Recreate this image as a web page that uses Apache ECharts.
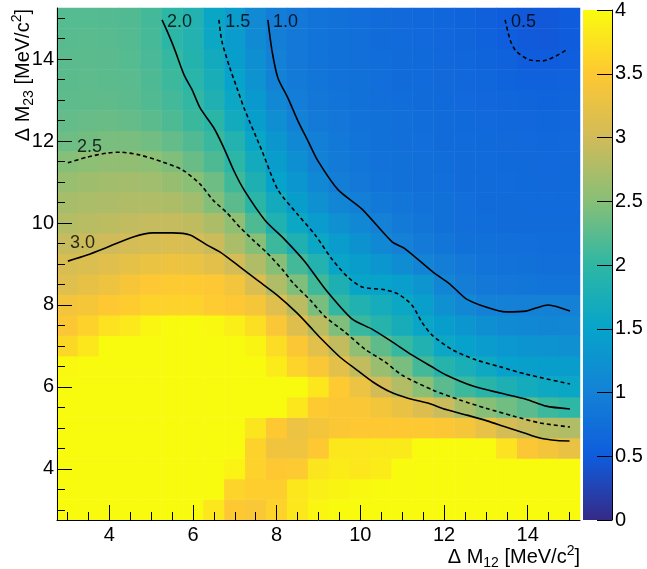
<!DOCTYPE html>
<html><head><meta charset="utf-8">
<script src="https://cdn.jsdelivr.net/npm/echarts@6/dist/echarts.min.js"></script>
<style>html,body{margin:0;padding:0;background:#fff}#c{width:647px;height:569px}</style>
</head><body><div id="c"></div>
<script>
// ---- data ----
const xCenters = ['3','3.5','4','4.5','5','5.5','6','6.5','7','7.5','8','8.5','9','9.5','10','10.5','11','11.5','12','12.5','13','13.5','14','14.5','15'];
const yCenters = ['3','3.5','4','4.5','5','5.5','6','6.5','7','7.5','8','8.5','9','9.5','10','10.5','11','11.5','12','12.5','13','13.5','14','14.5','15'];
const majorTickLabels = ['4','6','8','10','12','14'];
// cell values, one row per y centre (first row: y = 3, last row: y = 15)
const zRows = [
 [4,4,4,4,4,4,4,3.8,3.5,3.45,3.6,3.8,3.95,4,4,4,4,4,4,4,4,4,4,4,4],
 [4,4,4,4,4,4,4,4,3.62,3.55,3.55,3.8,3.88,3.93,3.97,4,4,4,4,4,4,4,4,4,4],
 [4,4,4,4,4,4,4,4,3.92,3.6,3.5,3.52,3.78,3.85,3.8,3.85,4,4,4,4,4,4,4,4,4],
 [4,4,4,4,4,4,4,4,4,3.6,3.35,3.33,3.5,3.8,3.8,3.82,3.83,4,4,4,4,3.75,3.48,3.38,3.28],
 [4,4,4,4,4,4,4,4,4,3.78,3.5,3.3,3.38,3.48,3.5,3.5,3.5,3.5,3.48,3.4,3.25,3.05,2.93,2.82,2.78],
 [4,4,4,4,4,4,4,4,4,4,4,3.8,3.52,3.47,3.45,3.38,3.28,3.12,2.95,2.72,2.5,2.38,2.25,2.08,2.0],
 [4,4,4,4,4,4,4,4,4,4,4,4,3.8,3.52,3.3,3.02,2.8,2.52,2.25,2.08,1.93,1.8,1.68,1.6,1.55],
 [3.97,4,4,4,4,4,4,4,4,4,3.85,3.62,3.45,3.2,2.9,2.62,2.42,2.12,1.9,1.75,1.6,1.47,1.44,1.42,1.4],
 [3.66,3.8,4,4,4,4,4,4,4,3.93,3.7,3.48,3.18,2.9,2.55,2.28,2.05,1.84,1.58,1.47,1.38,1.31,1.27,1.25,1.22],
 [3.48,3.6,3.75,3.82,3.95,4,4,3.97,3.88,3.72,3.45,3.14,2.85,2.46,2.06,1.9,1.72,1.54,1.42,1.3,1.2,1.13,1.1,1.09,1.08],
 [3.37,3.41,3.5,3.54,3.6,3.6,3.6,3.53,3.49,3.4,3.15,2.85,2.42,2.02,1.84,1.7,1.57,1.44,1.22,1.08,0.99,0.98,0.98,0.99,0.98],
 [3.16,3.24,3.32,3.42,3.49,3.52,3.52,3.49,3.37,3.1,2.78,2.46,2.1,1.8,1.52,1.48,1.43,1.28,1.05,0.96,0.88,0.85,0.84,0.83,0.82],
 [3.08,3.11,3.17,3.22,3.29,3.32,3.29,3.2,3.03,2.78,2.5,2.12,1.86,1.52,1.4,1.3,1.17,1.04,0.96,0.88,0.82,0.8,0.77,0.76,0.76],
 [2.93,2.96,2.99,3.03,3.06,3.1,3.06,2.96,2.74,2.5,2.08,1.82,1.57,1.38,1.24,1.1,0.98,0.9,0.84,0.79,0.77,0.75,0.74,0.73,0.73],
 [2.8,2.83,2.86,2.89,2.91,2.91,2.88,2.76,2.56,2.18,1.84,1.58,1.38,1.22,1.1,0.98,0.9,0.84,0.78,0.75,0.73,0.72,0.72,0.71,0.71],
 [2.72,2.74,2.76,2.78,2.78,2.76,2.68,2.48,2.26,1.96,1.66,1.42,1.22,1.07,0.97,0.89,0.84,0.8,0.77,0.74,0.72,0.71,0.7,0.7,0.7],
 [2.62,2.66,2.68,2.69,2.67,2.61,2.52,2.36,2.1,1.8,1.5,1.3,1.1,0.96,0.88,0.83,0.79,0.76,0.74,0.72,0.71,0.7,0.69,0.68,0.69],
 [2.49,2.54,2.57,2.57,2.54,2.46,2.33,2.18,1.97,1.66,1.4,1.2,1.02,0.91,0.84,0.8,0.77,0.75,0.73,0.71,0.7,0.69,0.68,0.67,0.68],
 [2.36,2.39,2.42,2.42,2.38,2.3,2.2,2.07,1.86,1.55,1.32,1.1,0.97,0.89,0.83,0.79,0.76,0.74,0.72,0.7,0.69,0.68,0.67,0.66,0.67],
 [2.3,2.32,2.33,2.31,2.26,2.18,2.07,1.96,1.66,1.42,1.18,1.02,0.92,0.85,0.8,0.77,0.75,0.73,0.71,0.69,0.67,0.66,0.65,0.64,0.65],
 [2.27,2.28,2.28,2.26,2.2,2.12,2.02,1.82,1.57,1.34,1.1,0.94,0.86,0.81,0.78,0.75,0.73,0.71,0.69,0.67,0.65,0.63,0.62,0.61,0.62],
 [2.26,2.27,2.26,2.24,2.18,2.08,1.94,1.74,1.5,1.26,1.02,0.9,0.84,0.8,0.77,0.74,0.72,0.7,0.68,0.66,0.63,0.61,0.58,0.57,0.59],
 [2.25,2.26,2.25,2.22,2.15,2.04,1.88,1.66,1.42,1.2,0.98,0.88,0.83,0.79,0.76,0.73,0.71,0.69,0.66,0.64,0.61,0.57,0.52,0.5,0.53],
 [2.23,2.24,2.23,2.21,2.13,1.98,1.86,1.57,1.38,1.14,0.96,0.88,0.82,0.78,0.75,0.72,0.7,0.67,0.65,0.62,0.58,0.53,0.48,0.47,0.5],
 [2.22,2.22,2.21,2.2,2.12,1.97,1.86,1.55,1.38,1.12,0.95,0.88,0.82,0.78,0.74,0.71,0.68,0.66,0.64,0.61,0.56,0.5,0.47,0.47,0.51]
];
// contour lines [x, y]
const c05 = [[13.46,14.96],[13.58,14.47],[13.72,14.20],[14.05,13.98],[14.37,13.96],[14.68,14.08],[14.96,14.25]];
const c10 = [[7.79,14.96],[7.89,14.20],[8.03,13.54],[8.27,13.05],[8.51,12.49],[8.75,12.00],[8.99,11.51],[9.47,10.81],[10.04,10.34],[10.76,9.54],[11.07,9.37],[11.74,8.80],[12.14,8.51],[12.53,8.15],[13.00,7.95],[13.48,7.83],[13.96,7.85],[14.49,8.00],[15.01,7.85]];
const c15 = [[6.62,14.96],[6.69,14.44],[6.88,13.79],[7.05,13.30],[7.22,12.81],[7.65,11.76],[8.03,10.81],[8.51,10.20],[8.92,9.71],[9.32,9.12],[9.70,8.68],[10.04,8.44],[10.59,8.37],[10.90,8.27],[11.23,8.00],[11.47,7.58],[11.71,7.27],[12.21,6.90],[12.76,6.66],[13.34,6.49],[13.96,6.31],[15.01,6.07]];
const c20 = [[5.26,14.96],[5.38,14.69],[5.55,14.27],[5.79,13.61],[5.98,13.25],[6.17,12.81],[6.50,12.32],[6.74,11.83],[6.98,11.27],[7.22,10.81],[7.72,10.07],[8.20,9.59],[8.68,9.05],[9.16,8.39],[9.80,7.66],[10.28,7.41],[10.76,7.10],[11.23,6.78],[11.71,6.49],[12.05,6.29],[12.69,6.02],[13.34,5.85],[13.96,5.70],[14.44,5.53],[15.01,5.46]];
const c25 = [[3.01,11.47],[3.47,11.61],[3.95,11.71],[4.26,11.73],[4.73,11.66],[5.28,11.49],[5.76,11.29],[6.17,10.95],[6.48,10.56],[6.81,10.25],[7.12,9.90],[7.43,9.59],[7.77,9.27],[8.15,8.85],[8.39,8.54],[8.80,8.12],[9.16,7.71],[9.63,7.34],[10.11,6.92],[10.59,6.61],[10.99,6.29],[11.74,5.92],[12.38,5.68],[13.00,5.48],[13.65,5.29],[14.29,5.12],[15.01,5.02]];
const c30 = [[3.01,9.07],[3.47,9.22],[3.95,9.41],[4.57,9.66],[5.04,9.76],[5.52,9.76],[5.93,9.71],[6.34,9.46],[6.65,9.29],[7.12,8.93],[7.53,8.61],[8.01,8.24],[8.49,7.80],[8.87,7.39],[9.04,7.20],[9.51,6.73],[9.92,6.41],[10.30,6.12],[10.71,5.88],[11.12,5.73],[11.59,5.61],[12.07,5.44],[12.55,5.31],[13.03,5.17],[13.42,5.04],[13.90,4.88],[14.29,4.75],[14.70,4.69],[15.00,4.68]];
const contourLabelText = ['0.5','1.0','1.5','2.0','2.5','3.0'];
const contourLabelAt = [[13.60,14.91],[7.91,14.91],[6.77,14.91],[5.38,14.91],[3.23,11.86],[3.06,9.51]];
const colorbarMin = 0, colorbarMax = 4, colorbarStep = 0.5;

// ---- chart ----
const F = 'Liberation Sans, Arial, Helvetica, sans-serif';
const bird = ['#352a87','#0f5cdd','#1481d6','#06a4ca','#2eb7a4','#87bf77','#d1bb59','#fec832','#f9fb0e'];
const heat = [];
zRows.forEach((row, j) => row.forEach((v, i) => heat.push([i, j, v])));
const isMajor = (i, v) => majorTickLabels.indexOf(v) >= 0;
const black = {color: '#000', width: 1};

function catAxis(dim, data, major) {
  return {
    type: 'category', data: data, gridIndex: 0, boundaryGap: true, z: 10,
    position: dim === 'x' ? 'bottom' : 'left',
    axisLine: {show: major, onZero: false, lineStyle: black},
    axisTick: {show: true, inside: true, alignWithLabel: true,
      length: major ? 15 : 8, interval: major ? isMajor : 0, lineStyle: black},
    axisLabel: major ? {show: true, interval: isMajor, fontSize: 20, fontFamily: F, color: '#000',
      margin: dim === 'x' ? 5 : 3} : {show: false},
    splitLine: {show: false}
  };
}
const contourStyle = (dashed) => ({color: '#000', width: 1.6, type: dashed ? [4, 3] : 'solid'});
function contour(data, dashed) {
  return {type: 'line', xAxisIndex: 2, yAxisIndex: 2, data: data, showSymbol: false, symbol: 'none',
    smooth: 0.25, lineStyle: contourStyle(dashed), z: 5, silent: true};
}
const colorbarGradient = {type: 'linear', x: 0, y: 1, x2: 0, y2: 0,
  colorStops: bird.map((c, k) => ({offset: k / (bird.length - 1), color: c}))};

const chart = echarts.init(document.getElementById('c'), null, {renderer: 'canvas'});
chart.setOption({
  animation: false,
  backgroundColor: '#fff',
  grid: [
    {left: 57, top: 8, width: 523, height: 512},
    {left: 583, top: 8, width: 29, height: 512}
  ],
  xAxis: [
    catAxis('x', xCenters, true),
    catAxis('x', xCenters, false),
    {type: 'value', gridIndex: 0, min: 2.75, max: 15.25, show: false},
    // hidden helper axis across the colour bar; its zero is the bar's right edge
    {type: 'value', gridIndex: 1, min: -1, max: 0, show: false}
  ],
  yAxis: [
    catAxis('y', yCenters, true),
    catAxis('y', yCenters, false),
    {type: 'value', gridIndex: 0, min: 2.75, max: 15.25, show: false},
    {type: 'value', gridIndex: 1, position: 'right', min: colorbarMin, max: colorbarMax, interval: colorbarStep, z: 20,
      axisLine: {show: true, onZero: true, lineStyle: black},
      axisTick: {show: true, inside: true, length: 15, lineStyle: black},
      axisLabel: {show: true, margin: 3, fontSize: 20, fontFamily: F, color: '#000'},
      splitLine: {show: false}}
  ],
  visualMap: {
    type: 'continuous', show: false, min: colorbarMin, max: colorbarMax, seriesIndex: 0,
    inRange: {color: bird}
  },
  series: [
    {type: 'heatmap', xAxisIndex: 0, yAxisIndex: 0, data: heat, progressive: 0, silent: true,
      itemStyle: {borderWidth: 0}},
    contour(c30, false), contour(c25, true), contour(c20, false),
    contour(c15, true), contour(c10, false), contour(c05, true),
    {type: 'scatter', xAxisIndex: 2, yAxisIndex: 2, symbolSize: 0, silent: true, z: 6,
      data: contourLabelAt.map((p, k) => ({value: p, name: contourLabelText[k]})),
      label: {show: true, position: 'right', distance: 0, formatter: '{b}', fontSize: 18, fontFamily: F, color: '#000'}},
    // colour bar: one gradient bar spanning the scale from colorbarMin to colorbarMax
    {type: 'custom', xAxisIndex: 3, yAxisIndex: 3, silent: true, z: 1, clip: false,
      data: [[-1, colorbarMin, 0, colorbarMax]],
      encode: {x: [0, 2], y: [1, 3]},
      renderItem: function (params, api) {
        const p0 = api.coord([api.value(0), api.value(1)]);
        const p1 = api.coord([api.value(2), api.value(3)]);
        return {type: 'rect', shape: {x: p0[0], y: p1[1], width: p1[0] - p0[0], height: p0[1] - p1[1]},
          style: {fill: colorbarGradient}};
      }}
  ],
  graphic: [
    {type: 'text', x: 580, y: 570, z: 10, style: {
      text: '{a|Δ M}{b|12}{a| [MeV/c}{c|2}{a|]}', align: 'right', verticalAlign: 'bottom',
      rich: {a: {fontSize: 20, fontFamily: F, fill: '#000', lineHeight: 26},
             b: {fontSize: 14, fontFamily: F, fill: '#000', lineHeight: 14, verticalAlign: 'bottom'},
             c: {fontSize: 14, fontFamily: F, fill: '#000', lineHeight: 14, verticalAlign: 'top'}}}},
    {type: 'text', x: 36, y: 9, rotation: Math.PI / 2, z: 10, style: {
      text: '{a|Δ M}{b|23}{a| [MeV/c}{c|2}{a|]}', align: 'right', verticalAlign: 'bottom',
      rich: {a: {fontSize: 20, fontFamily: F, fill: '#000', lineHeight: 26},
             b: {fontSize: 14, fontFamily: F, fill: '#000', lineHeight: 14, verticalAlign: 'bottom'},
             c: {fontSize: 14, fontFamily: F, fill: '#000', lineHeight: 14, verticalAlign: 'top'}}}}
  ]
});
</script>
</body></html>
